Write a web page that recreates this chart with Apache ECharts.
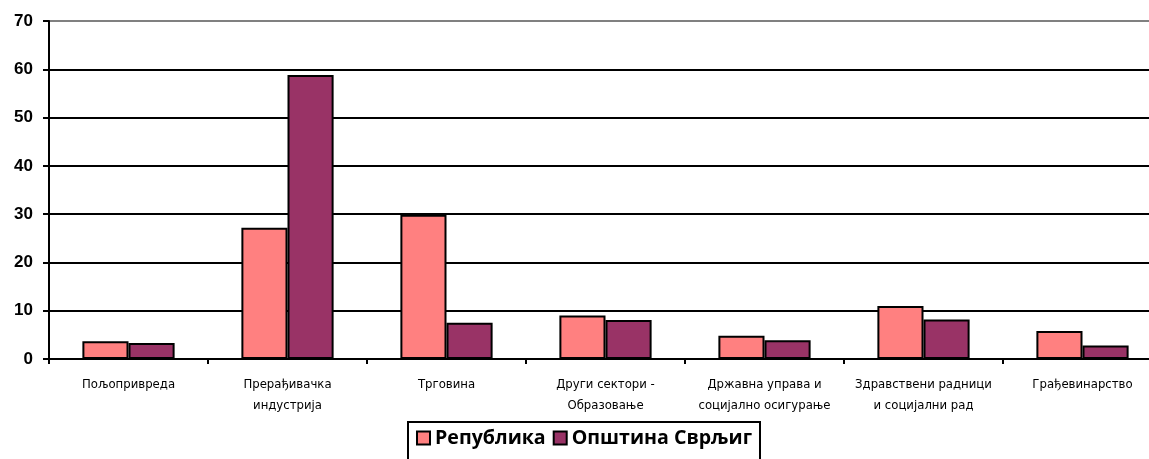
<!DOCTYPE html>
<html><head><meta charset="utf-8">
<script src="https://cdn.jsdelivr.net/npm/echarts@6/dist/echarts.min.js"></script>
<style>html,body{margin:0;padding:0;background:#fff;overflow:hidden}#c{width:1162px;height:459px}</style>
</head><body><div id="c"></div>
<script>
var categories = ["Пољопривреда", "Прерађивачка\nиндустрија", "Трговина", "Други сектори -\nОбразовање", "Државна управа и\nсоцијално осигурање", "Здравствени радници\nи социјални рад", "Грађевинарство"];
var republika = [3.7, 27.2, 29.9, 9.0, 4.8, 11.0, 5.8];
var svrljig = [3.3, 58.8, 7.5, 8.1, 3.9, 8.2, 2.8];
var seriesNames = ["Република", "Општина Сврљиг"];
var yTicks = [0, 10, 20, 30, 40, 50, 60, 70];

var chart = echarts.init(document.getElementById('c'), null, {renderer: 'canvas'});
chart.setOption({
  animation: false,
  grid: {left: 49, right: 0, top: 21, bottom: 100, containLabel: false},
  legend: {
    left: 408, top: 422,
    orient: 'horizontal',
    borderColor: '#000', borderWidth: 2,
    padding: [6, 8, 16, 8],
    itemWidth: 13, itemHeight: 13, itemGap: 7,
    icon: 'rect',
    textStyle: {fontFamily: 'Open Sans, Liberation Sans, Arial, sans-serif', fontWeight: 'bold', fontSize: 19.6, color: '#000'},
    data: seriesNames
  },
  xAxis: {
    type: 'category',
    data: categories,
    axisLine: {lineStyle: {color: '#000', width: 2}},
    axisTick: {show: true, length: 5, lineStyle: {color: '#000', width: 2}},
    axisLabel: {interval: 0, margin: 15, fontSize: 13, lineHeight: 21, color: '#000', fontFamily: 'Liberation Sans Narrow, DejaVu Sans Condensed, sans-serif'}
  },
  yAxis: {
    type: 'value', min: yTicks[0], max: yTicks[yTicks.length - 1], interval: 10,
    axisLine: {show: true, lineStyle: {color: '#000', width: 2}},
    axisTick: {show: true, length: 6, lineStyle: {color: '#000', width: 2}},
    axisLabel: {margin: 16, fontSize: 17, fontWeight: 'bold', color: '#000', fontFamily: 'Liberation Sans, Arial, sans-serif'},
    splitLine: {show: true, lineStyle: {color: ['#000', '#000', '#000', '#000', '#000', '#000', '#000', '#808080'], width: 2}}
  },
  series: [
    {name: seriesNames[0], type: 'bar', data: republika, barGap: '0%', barCategoryGap: '42%',
     itemStyle: {color: '#FF8080', borderColor: '#000', borderWidth: 2}},
    {name: seriesNames[1], type: 'bar', data: svrljig, barGap: '0%', barCategoryGap: '42%',
     itemStyle: {color: '#993366', borderColor: '#000', borderWidth: 2}}
  ]
});
</script></body></html>
